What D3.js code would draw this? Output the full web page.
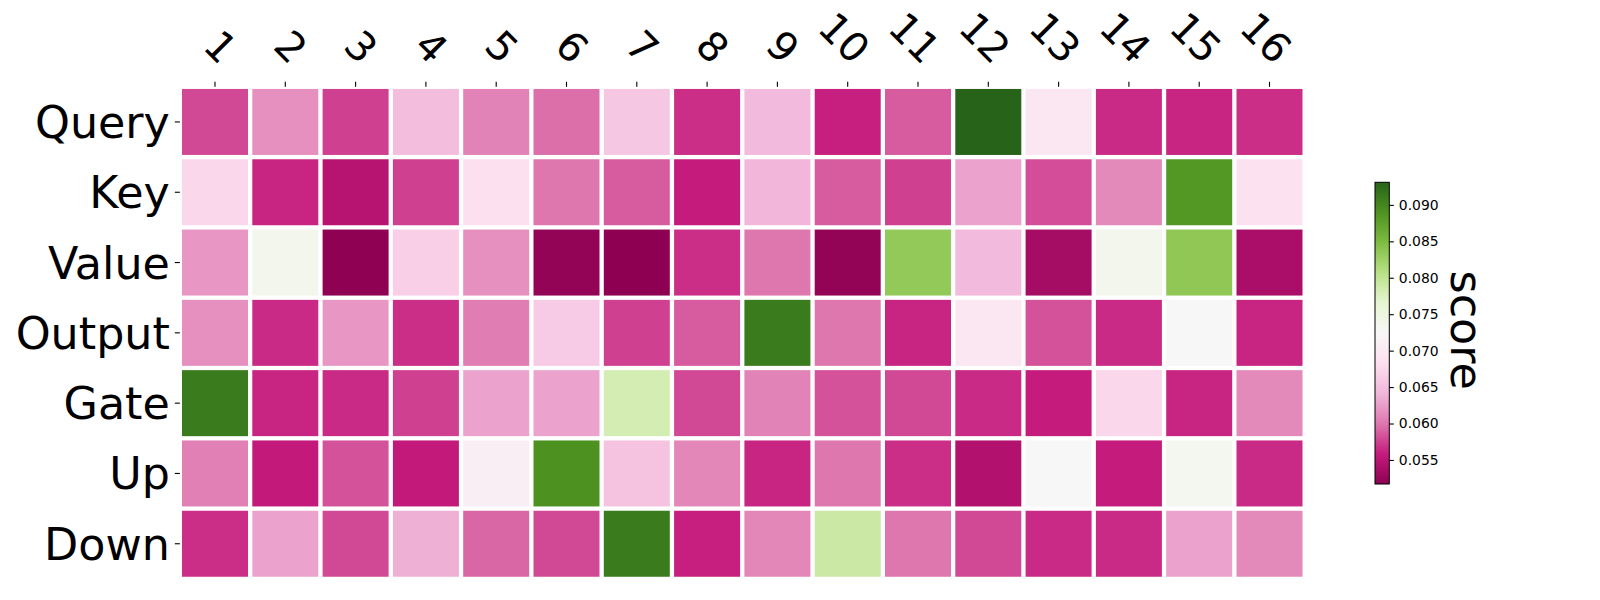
<!DOCTYPE html>
<html>
<head>
<meta charset="utf-8">
<script src="https://cdn.jsdelivr.net/npm/d3@7"></script>
<style>
  html, body { margin: 0; padding: 0; background: #fff; }
  svg { display: block; font-family: "DejaVu Sans", sans-serif; }
</style>
</head>
<body>
<svg id="chart" width="1600" height="600"></svg>
<script>
// ---- data ----
const rows = ["Query", "Key", "Value", "Output", "Gate", "Up", "Down"];
const cols = ["1","2","3","4","5","6","7","8","9","10","11","12","13","14","15","16"];
const query  = [0.0579, 0.0616, 0.0575, 0.0649, 0.0608, 0.0596, 0.0658, 0.0567, 0.0645, 0.0560, 0.0587, 0.0931, 0.0695, 0.0565, 0.0563, 0.0567];
const key    = [0.0674, 0.0563, 0.0548, 0.0575, 0.0683, 0.0600, 0.0587, 0.0558, 0.0641, 0.0587, 0.0575, 0.0629, 0.0581, 0.0612, 0.0885, 0.0687];
const value  = [0.0621, 0.0736, 0.0518, 0.0666, 0.0616, 0.0521, 0.0517, 0.0567, 0.0600, 0.0521, 0.0834, 0.0645, 0.0534, 0.0736, 0.0836, 0.0538];
const output = [0.0616, 0.0565, 0.0621, 0.0567, 0.0604, 0.0662, 0.0575, 0.0587, 0.0910, 0.0600, 0.0563, 0.0695, 0.0583, 0.0565, 0.0724, 0.0563];
const gate   = [0.0910, 0.0563, 0.0565, 0.0575, 0.0629, 0.0629, 0.0782, 0.0579, 0.0608, 0.0583, 0.0579, 0.0565, 0.0558, 0.0674, 0.0563, 0.0612];
const up     = [0.0606, 0.0556, 0.0583, 0.0556, 0.0707, 0.0890, 0.0654, 0.0610, 0.0563, 0.0600, 0.0567, 0.0544, 0.0724, 0.0558, 0.0732, 0.0565];
const down   = [0.0567, 0.0629, 0.0579, 0.0637, 0.0592, 0.0579, 0.0910, 0.0560, 0.0610, 0.0790, 0.0600, 0.0579, 0.0565, 0.0565, 0.0629, 0.0612];
const seriesValues = [query, key, value, output, gate, up, down];
const cbTicks = [0.055, 0.060, 0.065, 0.070, 0.075, 0.080, 0.085, 0.090];
const cbLabel = "score";
// PiYG (ColorBrewer 11) as used by matplotlib
const piyg = ["#8e0152","#c51b7d","#de77ae","#f1b6da","#fde0ef","#f7f7f7","#e6f5d0","#b8e186","#7fbc41","#4d9221","#276419"];

// ---- layout ----
const svg = d3.select("#chart");
const gridLeft = 179.85, gridTop = 86.8, cell = 70.3;
const x = d3.scaleBand().domain(cols).range([gridLeft, gridLeft + cell * cols.length]).padding(0);
const y = d3.scaleBand().domain(rows).range([gridTop, gridTop + cell * rows.length]).padding(0);

const all = seriesValues.flat();
const vmin = d3.min(all), vmax = d3.max(all);
const stops = piyg.map((_, i) => vmin + (vmax - vmin) * i / (piyg.length - 1));
const color = d3.scaleLinear().domain(stops).range(piyg).interpolate(d3.interpolateRgb).clamp(true);

const cells = [];
rows.forEach((r, i) => cols.forEach((c, j) => cells.push({ r, c, v: seriesValues[i][j] })));

const gap = 2.15;
svg.append("g").selectAll("rect").data(cells).join("rect")
  .attr("x", d => x(d.c) + gap)
  .attr("y", d => y(d.r) + gap)
  .attr("width", x.bandwidth() - 2 * gap)
  .attr("height", y.bandwidth() - 2 * gap)
  .attr("fill", d => color(d.v));

// y axis (left)
const fs = 44.4, fsx = 40.3;
const yAxis = svg.append("g").attr("transform", `translate(${gridLeft},0)`)
  .call(d3.axisLeft(y).tickSize(5).tickPadding(5));
yAxis.select(".domain").remove();
yAxis.selectAll(".tick line").attr("stroke", "#000").attr("stroke-width", 1.1);
yAxis.selectAll(".tick text")
  .attr("font-size", fs).attr("fill", "#000")
  .attr("font-family", "DejaVu Sans, sans-serif")
  .attr("dy", "0.36em");

// x axis (top)
const xAxis = svg.append("g").attr("transform", `translate(0,${gridTop})`)
  .call(d3.axisTop(x).tickSize(5).tickFormat(""));
xAxis.select(".domain").remove();
xAxis.selectAll(".tick line").attr("stroke", "#000").attr("stroke-width", 1.1);

svg.append("g").selectAll("text").data(cols).join("text")
  .attr("font-size", fsx).attr("fill", "#000")
  .attr("text-anchor", "end")
  .attr("transform", d => `translate(${x(d) + x.bandwidth() / 2 + 4.6},${66}) rotate(45)`)
  .text(d => d);

// colorbar
const cbX = 1375, cbW = 14.3, cbTop = 182.3, cbBot = 484;
const cbScale = d3.scaleLinear().domain([vmin, vmax]).range([cbBot, cbTop]);
const defs = svg.append("defs");
const grad = defs.append("linearGradient").attr("id", "cbgrad")
  .attr("x1", "0").attr("y1", "1").attr("x2", "0").attr("y2", "0");
grad.selectAll("stop").data(piyg).join("stop")
  .attr("offset", (d, i) => i / (piyg.length - 1))
  .attr("stop-color", d => d);
svg.append("rect").attr("x", cbX).attr("y", cbTop).attr("width", cbW).attr("height", cbBot - cbTop)
  .attr("fill", "url(#cbgrad)").attr("stroke", "#000").attr("stroke-width", 1);
const cbAxis = svg.append("g").attr("transform", `translate(${cbX + cbW},0)`)
  .call(d3.axisRight(cbScale).tickValues(cbTicks).tickFormat(d3.format(".3f")).tickSize(4.5).tickPadding(5));
cbAxis.select(".domain").remove();
cbAxis.selectAll(".tick line").attr("stroke", "#000").attr("stroke-width", 1.1);
cbAxis.selectAll(".tick text").attr("font-size", 13.9).attr("fill", "#000")
  .attr("font-family", "DejaVu Sans, sans-serif");

svg.append("text")
  .attr("transform", `translate(1466,${(cbTop + cbBot) / 2 - 3}) rotate(90)`)
  .attr("text-anchor", "middle").attr("dominant-baseline", "central")
  .attr("font-size", fs).attr("fill", "#000")
  .text(cbLabel);
</script>
</body>
</html>
